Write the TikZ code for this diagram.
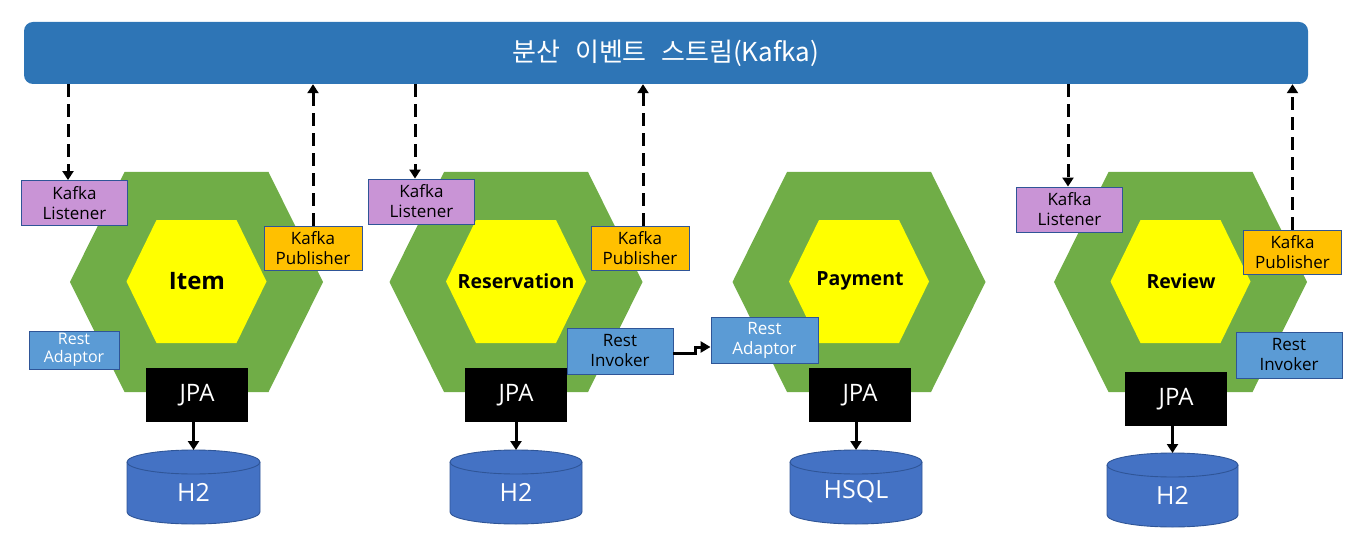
\documentclass[tikz,border=0pt]{standalone}
\usepackage{fontspec}
\setmainfont{Open Sans}
\newfontfamily\krfont[WordSpace=2.5]{Noto Sans CJK KR}
\usetikzlibrary{arrows.meta}
\definecolor{barblue}{HTML}{2E75B6}
\definecolor{hexgreen}{HTML}{70AD47}
\definecolor{hexyellow}{HTML}{FFFF00}
\definecolor{lisfill}{HTML}{C994D6}
\definecolor{pubfill}{HTML}{FFC000}
\definecolor{restfill}{HTML}{5B9BD5}
\definecolor{boxline}{HTML}{2F5597}
\definecolor{dbfill}{HTML}{4472C4}
\newcommand\dbcyl[5]{%
  \path[fill=dbfill, draw=boxline, line width=0.9pt] (#2-#4,#3+12) -- (#2-#4,#3+62)
    arc[start angle=180,end angle=360,x radius=#4pt,y radius=12pt] -- (#2+#4,#3+12)
    arc[start angle=0,end angle=180,x radius=#4pt,y radius=12pt] -- cycle;
  \draw[boxline, line width=0.9pt] (#2-#4,#3+12) arc[start angle=180,end angle=360,x radius=#4pt,y radius=12pt];
  \coordinate (#1) at (#2,#3);
  \node[dblabel] (#1t) at (#2,#3+42) {#5};
}
\begin{document}
\begin{tikzpicture}[x=1pt,y=-1pt,
  smallbox/.style={draw=boxline, line width=0.9pt, inner sep=0pt, align=center,
    font=\fontsize{17}{20}\selectfont},
  lis/.style={smallbox, fill=lisfill, text=black, minimum width=106pt, minimum height=45pt},
  pub/.style={smallbox, fill=pubfill, text=black, minimum width=98pt, minimum height=44pt},
  restA/.style={smallbox, fill=restfill, text=white},
  restI/.style={smallbox, fill=restfill, text=black, minimum width=106pt, minimum height=46pt},
  jpa/.style={fill=black, text=white, minimum width=102pt, minimum height=54pt, inner sep=0pt,
    font=\fontsize{24}{28}\selectfont},
  dblabel/.style={text=white, inner sep=0pt, font=\fontsize{25}{28}\selectfont},
  hexlabel/.style={inner sep=0pt, font=\bfseries\fontsize{19.5}{22}\selectfont},
  dasharr/.style={line width=3pt, dash pattern=on 13pt off 7pt, -{Triangle[width=11pt,length=9pt]}},
  solidarr/.style={line width=3pt, -{Triangle[width=11pt,length=9pt]}}
]
\useasboundingbox (0,0) rectangle (1348,548);
% event stream bar
\node[fill=barblue, rounded corners=9pt, minimum width=1284pt, minimum height=62pt, inner sep=0pt,
  text=white, font=\krfont\fontsize{26}{30}\selectfont] (bar) at (666,53) {분산 이벤트 스트림(Kafka)};
% hexagons
\foreach \c in {196.5, 516, 859, 1180.5} {
  \fill[hexgreen] (\c-126.5,282) -- (\c-72,172) -- (\c+72,172) -- (\c+126.5,282) -- (\c+72,392) -- (\c-72,392) -- cycle;
  \fill[hexyellow] (\c-70,281.5) -- (\c-40,220) -- (\c+40,220) -- (\c+70,281.5) -- (\c+40,343) -- (\c-40,343) -- cycle;
}
\node[hexlabel, font=\bfseries\fontsize{24}{28}\selectfont] (item) at (197,281) {Item};
\node[hexlabel] (resv) at (516,281) {Reservation};
\node[hexlabel] (paym) at (860,281) {Payment};
\node[hexlabel] (revw) at (1181,281) {Review};
% databases
\dbcyl{db1}{193.5}{450}{66.5}{H2}
\dbcyl{db2}{516}{450}{66}{H2}
\dbcyl{db3}{856}{450}{66}{HSQL}
\dbcyl{db4}{1172.5}{453}{65.5}{H2}
% JPA boxes
\node[jpa] (jpa1) at (197,395) {JPA};
\node[jpa] (jpa2) at (516,395) {JPA};
\node[jpa] (jpa3) at (860,395) {JPA};
\node[jpa] (jpa4) at (1176,399) {JPA};
% adapters
\node[lis] (lis1) at (74.5,203) {Kafka\\Listener};
\node[lis] (lis2) at (421.5,201.5) {Kafka\\Listener};
\node[lis] (lis4) at (1069.5,209.5) {Kafka\\Listener};
\node[pub] (pub1) at (313,248) {Kafka\\Publisher};
\node[pub] (pub2) at (640,248) {Kafka\\Publisher};
\node[pub] (pub4) at (1292.5,252) {Kafka\\Publisher};
\node[restA, minimum width=90pt, minimum height=38pt, font=\fontsize{16}{18}\selectfont] (rad1) at (74,350) {Rest\\Adaptor};
\node[restI] (inv2) at (620,351) {Rest\\Invoker};
\node[restA, minimum width=107pt, minimum height=46pt] (rad3) at (764.5,340) {Rest\\Adaptor};
\node[restI] (inv4) at (1289,355) {Rest\\Invoker};
% event arrows
\draw[dasharr] ([xshift=-6.5pt]lis1.north |- bar.south) -- ([xshift=-6.5pt]lis1.north);
\draw[dasharr] ([xshift=-6.5pt]lis2.north |- bar.south) -- ([xshift=-6.5pt]lis2.north);
\draw[dasharr] ([xshift=-1.5pt]lis4.north |- bar.south) -- ([xshift=-1.5pt]lis4.north);
\draw[dasharr] (pub1.north) -- (pub1.north |- bar.south);
\draw[dasharr] ([xshift=3pt]pub2.north) -- ([xshift=3pt]pub2.north |- bar.south);
\draw[dasharr] (pub4.north) -- (pub4.north |- bar.south);
% persistence arrows
\draw[solidarr] (db1 |- jpa1.south) -- (db1);
\draw[solidarr] (db2 |- jpa2.south) -- (db2);
\draw[solidarr] (db3 |- jpa3.south) -- (db3);
\draw[solidarr] (db4 |- jpa4.south) -- (db4);
% rest call
\draw[line width=3pt, -{Triangle[width=11pt,length=10pt]}] ([yshift=-2pt]inv2.east) -- ++(22,0) |- ([yshift=-7pt]rad3.west);
\end{tikzpicture}
\end{document}
